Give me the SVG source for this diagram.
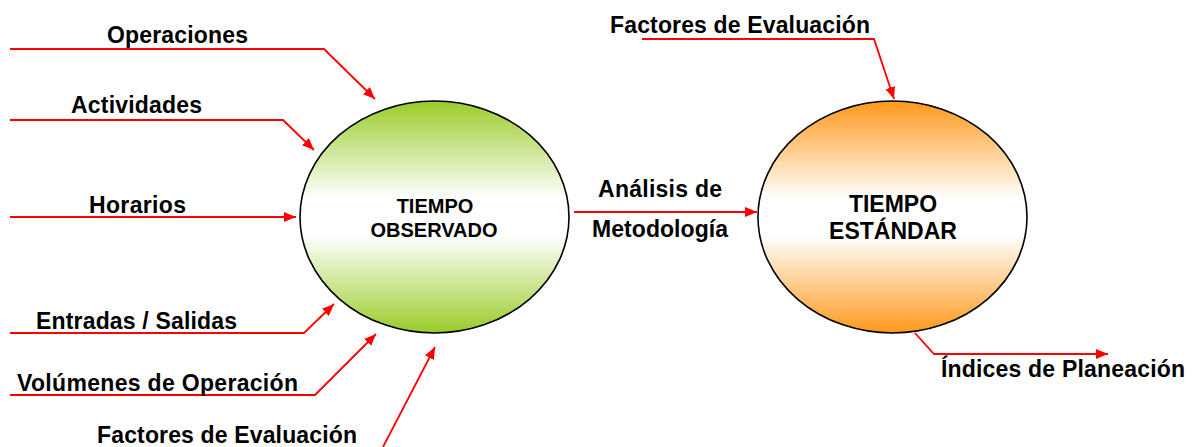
<svg xmlns="http://www.w3.org/2000/svg" width="1195" height="447" viewBox="0 0 1195 447">
<style>
.lbl{font-family:"Liberation Sans",Arial,sans-serif;font-weight:bold;font-size:23px;fill:#000}
.ctr{font-family:"Liberation Sans",Arial,sans-serif;font-weight:bold;fill:#000;text-anchor:middle}
.con{fill:none;stroke:#FF0000;stroke-width:1.8;marker-end:url(#ah)}
.node{stroke:#000;stroke-width:1.6}
</style>
<defs>
<marker id="ah" viewBox="0 0 12 10" refX="12" refY="5" markerWidth="12" markerHeight="10" markerUnits="userSpaceOnUse" orient="auto">
<path d="M0,0 L12,5 L0,10 Z" fill="#FF0000"/>
</marker>
<linearGradient id="gGreen" x1="0" y1="0" x2="0" y2="1">
<stop offset="0" stop-color="#99CC29"/>
<stop offset="0.42" stop-color="#FFFFFF"/>
<stop offset="0.58" stop-color="#FFFFFF"/>
<stop offset="1" stop-color="#99CC29"/>
</linearGradient>
<linearGradient id="gOrange" x1="0" y1="0" x2="0" y2="1">
<stop offset="0" stop-color="#FF991C"/>
<stop offset="0.42" stop-color="#FFFFFF"/>
<stop offset="0.58" stop-color="#FFFFFF"/>
<stop offset="1" stop-color="#FF991C"/>
</linearGradient>
</defs>
<rect width="1195" height="447" fill="#FFFFFF"/>
<g id="connectors">
<path class="con" d="M10,49 L324,49 L375,99"/>
<path class="con" d="M10,120 L283,120 L314,150"/>
<path class="con" d="M10,217 L296,217"/>
<path class="con" d="M10,333 L304,333 L334,304"/>
<path class="con" d="M10,395 L315,395 L376,334"/>
<path class="con" d="M383,447 L435,347"/>
<path class="con" d="M574,212 L757,212"/>
<path class="con" d="M642,39 L874,39 L894,99"/>
<path class="con" d="M915,333 L934,354 L1108,354"/>
</g>
<g id="node-tiempo-observado">
<ellipse class="node" cx="434.5" cy="217" rx="134.5" ry="116" fill="url(#gGreen)"/>
<text class="ctr" x="435" y="213" font-size="20">TIEMPO</text>
<text class="ctr" x="434" y="237" font-size="20">OBSERVADO</text>
</g>
<g id="node-tiempo-estandar">
<ellipse class="node" cx="892.5" cy="217" rx="134.5" ry="116" fill="url(#gOrange)"/>
<text class="ctr" x="893" y="212" font-size="23">TIEMPO</text>
<text class="ctr" x="893" y="239" font-size="23">ESTÁNDAR</text>
</g>
<g id="labels">
<text class="lbl" x="107" y="43" textLength="141">Operaciones</text>
<text class="lbl" x="71" y="113" textLength="131">Actividades</text>
<text class="lbl" x="89" y="213" textLength="97">Horarios</text>
<text class="lbl" x="36" y="329" textLength="201">Entradas / Salidas</text>
<text class="lbl" x="17" y="391" textLength="281">Volúmenes de Operación</text>
<text class="lbl" x="97" y="443" textLength="260">Factores de Evaluación</text>
<text class="lbl" x="598" y="197" textLength="124">Análisis de</text>
<text class="lbl" x="592" y="237" textLength="136">Metodología</text>
<text class="lbl" x="610" y="33" textLength="260">Factores de Evaluación</text>
<text class="lbl" x="941" y="377" textLength="244">Índices de Planeación</text>
</g>
</svg>
